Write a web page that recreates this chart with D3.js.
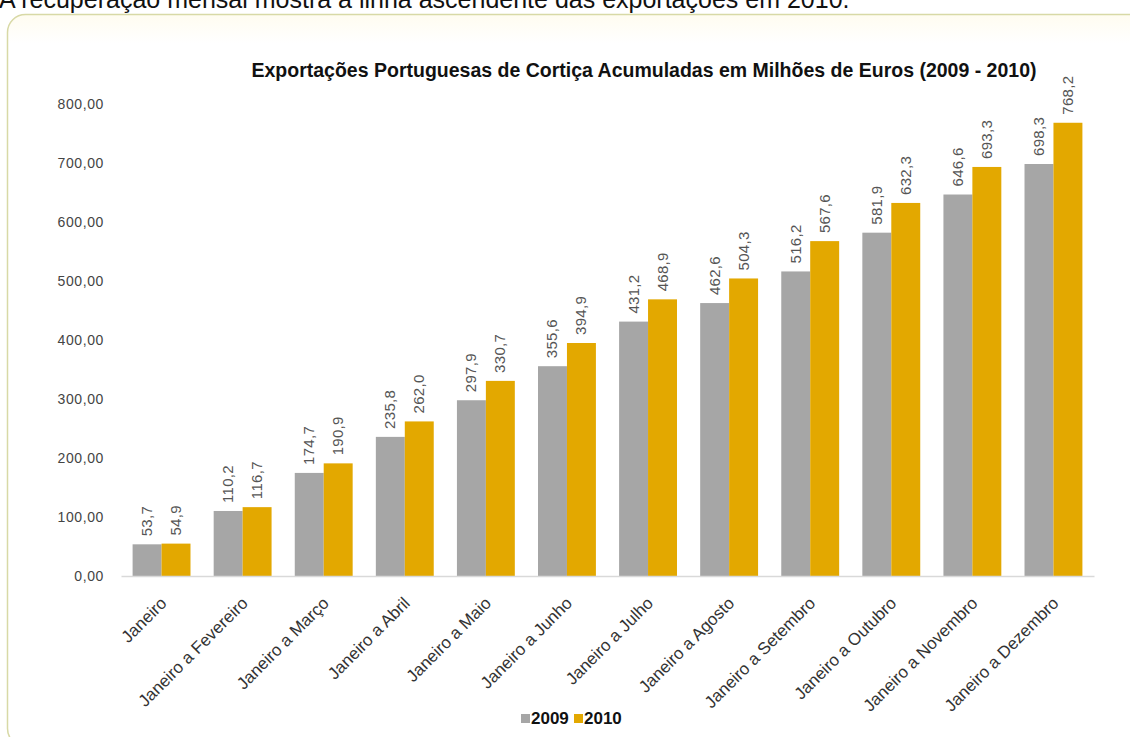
<!DOCTYPE html>
<meta http-equiv="Content-type" content="text/html; charset=UTF-8"/>
<style>
  body { margin: 0; background: #fff; overflow: hidden; }
  * { font-family: 'Liberation Sans', Arial, sans-serif }
</style>
<svg width="1130" height="737"></svg>
<script src="https://cdn.jsdelivr.net/npm/d3@7/dist/d3.min.js"></script>
<script>
var categories = ["Janeiro", "Janeiro a Fevereiro", "Janeiro a Março", "Janeiro a Abril",
  "Janeiro a Maio", "Janeiro a Junho", "Janeiro a Julho", "Janeiro a Agosto",
  "Janeiro a Setembro", "Janeiro a Outubro", "Janeiro a Novembro", "Janeiro a Dezembro"];
var series = ["2009", "2010"];
var values2009 = [53.7, 110.2, 174.7, 235.8, 297.9, 355.6, 431.2, 462.6, 516.2, 581.9, 646.6, 698.3];
var values2010 = [54.9, 116.7, 190.9, 262.0, 330.7, 394.9, 468.9, 504.3, 567.6, 632.3, 693.3, 768.2];
var yTicks = [0, 100, 200, 300, 400, 500, 600, 700, 800];
var colors = ["#a6a6a6", "#e3a800"];

var svg = d3.select("svg");

// caption line, cut off at the top of the picture
svg.append("text")
    .attr("x", -1)
    .attr("y", 8)
    .style("font-size", "25px")
    .attr("fill", "#111")
    .text("A recuperação mensal mostra a linha ascendente das exportações em 2010.");

// frame
var defs = svg.append("defs");
var grad = defs.append("linearGradient").attr("id", "bg").attr("x1", 0).attr("y1", 0).attr("x2", 0).attr("y2", 1);
grad.append("stop").attr("offset", "0").attr("stop-color", "#fffcf0");
grad.append("stop").attr("offset", "0.04").attr("stop-color", "#ffffff");
svg.append("rect")
    .attr("x", 7.5).attr("y", 14.5)
    .attr("width", 1200).attr("height", 732)
    .attr("rx", 18)
    .attr("fill", "url(#bg)")
    .attr("stroke", "#d8d9a6")
    .attr("stroke-width", 1.5);

var x = d3.scaleBand()
    .domain(categories)
    .range([121, 1094])
    .paddingInner(0.286)
    .paddingOuter(0.143);

var x1 = d3.scaleBand()
    .domain(series)
    .range([0, x.bandwidth()]);

var y = d3.scaleLinear()
    .domain([0, 800])
    .range([576, 104]);

var data = categories.map(function(c, i) {
  return {cat: c, vals: [values2009[i], values2010[i]]};
});

// y axis labels
svg.append("g")
    .attr("transform", "translate(104,0)")
    .call(d3.axisLeft(y).tickValues(yTicks).tickSize(0).tickPadding(0)
      .tickFormat(function(d) { return d3.format(".2f")(d).replace(".", ","); }))
    .call(function(g) { g.select(".domain").remove(); })
    .selectAll("text")
    .style("font-size", "14px")
    .style("letter-spacing", "0.6px")
    .attr("fill", "#444");

// bars
var groups = svg.append("g").selectAll("g")
    .data(data)
    .join("g")
    .attr("transform", function(d) { return "translate(" + x(d.cat) + ",0)"; });

groups.selectAll("rect")
    .data(function(d) { return d.vals.map(function(v, j) { return {s: series[j], v: v, j: j}; }); })
    .join("rect")
    .attr("x", function(d) { return x1(d.s); })
    .attr("y", function(d) { return y(d.v); })
    .attr("width", x1.bandwidth())
    .attr("height", function(d) { return y(0) - y(d.v); })
    .attr("fill", function(d) { return colors[d.j]; });

groups.selectAll("text")
    .data(function(d) { return d.vals.map(function(v, j) { return {s: series[j], v: v}; }); })
    .join("text")
    .attr("transform", function(d) {
      return "translate(" + (x1(d.s) + x1.bandwidth() / 2 + 5) + "," + (y(d.v) - 8) + ") rotate(-90)";
    })
    .style("font-size", "15px")
    .style("letter-spacing", "0.3px")
    .attr("fill", "#555")
    .text(function(d) { return d3.format(".1f")(d.v).replace(".", ","); });

// x axis
var xAxis = svg.append("g")
    .attr("transform", "translate(0,576)")
    .call(d3.axisBottom(x).tickSize(0).tickPadding(0));
xAxis.select(".domain").attr("stroke", "#d9d9d9").attr("stroke-width", 1.5);
xAxis.selectAll("text")
    .attr("text-anchor", "end")
    .attr("transform", "translate(2,24) rotate(-45)")
    .attr("y", 0)
    .attr("dy", "0.35em")
    .style("font-size", "17px")
    .attr("fill", "#333");

// title
svg.append("text")
    .attr("x", 644)
    .attr("y", 77)
    .attr("text-anchor", "middle")
    .style("font-size", "19.5px")
    .style("font-weight", "bold")
    .attr("fill", "#111")
    .text("Exportações Portuguesas de Cortiça Acumuladas em Milhões de Euros (2009 - 2010)");

// legend
var legend = svg.append("g").attr("transform", "translate(521,714)");
var item = legend.selectAll("g")
    .data(series)
    .join("g")
    .attr("transform", function(d, i) { return "translate(" + (i * 53) + ",0)"; });
item.append("rect")
    .attr("width", 9).attr("height", 9)
    .attr("fill", function(d, i) { return colors[i]; });
item.append("text")
    .attr("x", 10)
    .attr("y", 10)
    .style("font-size", "17px")
    .style("font-weight", "bold")
    .attr("fill", "#111")
    .text(function(d) { return d; });
</script>
